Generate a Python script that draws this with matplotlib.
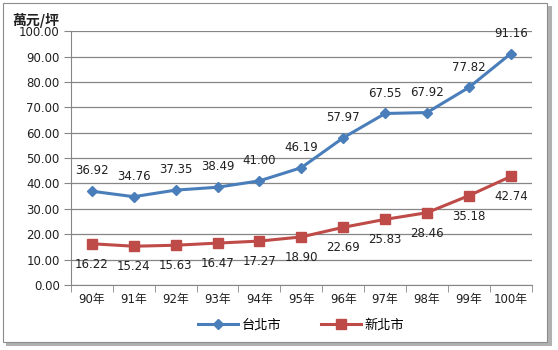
import matplotlib.pyplot as plt
from matplotlib.patches import Rectangle

plt.rcParams['font.family'] = ['DejaVu Sans', 'Noto Sans CJK TC']

years = ['90年', '91年', '92年', '93年', '94年', '95年', '96年', '97年', '98年', '99年', '100年']
taipei = [36.92, 34.76, 37.35, 38.49, 41.00, 46.19, 57.97, 67.55, 67.92, 77.82, 91.16]
new_taipei = [16.22, 15.24, 15.63, 16.47, 17.27, 18.90, 22.69, 25.83, 28.46, 35.18, 42.74]

blue = '#4A7EBB'
red = '#BE4B48'
txt = '#202020'

fig = plt.figure(figsize=(5.58, 3.5), dpi=100)
ax = fig.add_axes([0.127, 0.186, 0.826, 0.725])

# outer frame with shadow
fig.patches.append(Rectangle((6 / 558, 4 / 350), 546 / 558, 340 / 350, transform=fig.transFigure,
                             facecolor='#b0b0b0', edgecolor='none', zorder=-2))
fig.patches.append(Rectangle((3 / 558, 8 / 350), 544 / 558, 339 / 350, transform=fig.transFigure,
                             facecolor='white', edgecolor='#8c8c8c', lw=0.8, zorder=-1))

x = list(range(len(years)))
ax.plot(x, taipei, color=blue, lw=2.2, marker='D', ms=5, label='台北市')
ax.plot(x, new_taipei, color=red, lw=2.2, marker='s', ms=7, label='新北市')

for i, v in enumerate(taipei):
    ax.annotate('%.2f' % v, (i, v), xytext=(0, 10), textcoords='offset points',
                ha='center', va='bottom', fontsize=8.5, color=txt)
for i, v in enumerate(new_taipei):
    ax.annotate('%.2f' % v, (i, v), xytext=(0, -10), textcoords='offset points',
                ha='center', va='top', fontsize=8.5, color=txt)

ax.set_xlim(-0.5, len(years) - 0.5)
ax.set_ylim(0, 100)
ax.set_yticks(range(0, 101, 10))
ax.set_yticklabels(['%.2f' % v for v in range(0, 101, 10)], fontsize=8.5, color=txt)
ax.set_xticks(x)
ax.set_xticklabels(years, fontsize=8.5, color=txt)
ax.set_xticks([i - 0.5 for i in range(len(years) + 1)], minor=True)
ax.tick_params(axis='x', which='major', length=0, pad=6)
ax.tick_params(axis='x', which='minor', length=5, color='#868686')
ax.tick_params(axis='y', length=5, color='#868686', pad=3)
ax.grid(axis='y', color='#868686', lw=0.9)
ax.set_axisbelow(True)
for s in ['top', 'right']:
    ax.spines[s].set_visible(False)
for s in ['left', 'bottom']:
    ax.spines[s].set_color('#868686')

fig.text(12 / 558, 1 - 20 / 350, '萬元/坪', fontsize=10, fontweight='bold', color=txt,
         family=['Noto Sans CJK TC'], va='center')

leg = ax.legend(loc='upper center', bbox_to_anchor=(0.5, -0.085), ncol=2, frameon=False,
                prop={'family': ['Noto Sans CJK TC'], 'size': 9.5},
                handlelength=3, columnspacing=3, handletextpad=0.3)

fig.savefig('out.png', dpi=100)
